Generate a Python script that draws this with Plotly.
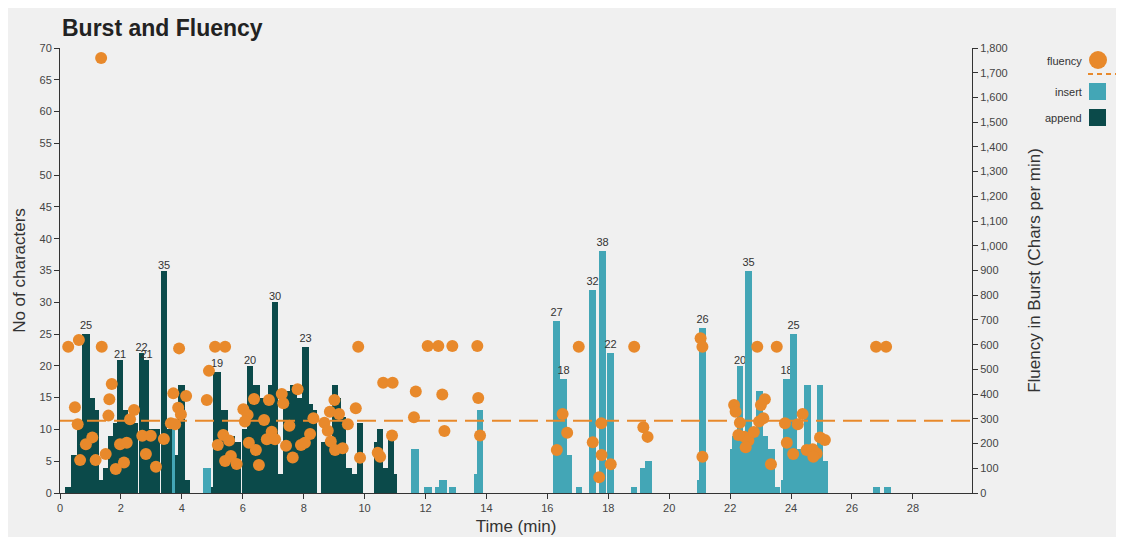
import plotly.graph_objects as go

# ---------------- data ----------------
# append bursts: start (min), end (min), characters
append_start = [0.16, 0.36, 0.55, 0.73, 0.98, 1.15, 1.29, 1.42, 1.57, 1.74, 1.86, 2.08, 2.22,
                2.59, 2.77, 2.93, 3.32, 3.50, 3.79, 3.88, 4.10,
                4.96, 5.03, 5.29, 5.53, 5.75, 5.98, 6.13, 6.35, 6.57, 6.84, 6.95, 7.17, 7.33,
                7.55, 7.77, 7.95, 8.18, 8.31, 8.57, 8.92, 9.14, 9.23, 9.39, 9.58, 9.74,
                10.32, 10.40, 10.61, 10.76, 10.98]
append_end = [0.36, 0.55, 0.73, 0.98, 1.15, 1.29, 1.42, 1.57, 1.74, 1.86, 2.08, 2.22, 2.55,
              2.77, 2.93, 3.28, 3.50, 3.67, 3.88, 4.10, 4.27,
              5.03, 5.29, 5.53, 5.75, 5.94, 6.13, 6.35, 6.57, 6.84, 6.95, 7.17, 7.33, 7.55,
              7.77, 7.95, 8.18, 8.31, 8.43, 8.92, 9.14, 9.23, 9.39, 9.58, 9.74, 9.96,
              10.40, 10.61, 10.76, 10.98, 11.07]
append_chars = [1, 6, 11, 25, 15, 13, 2, 4, 9, 11, 21, 13, 11,
                22, 21, 10, 35, 10, 6, 17, 2,
                1, 19, 13, 9, 8, 10, 20, 17, 15, 17, 30, 3, 16,
                17, 15, 23, 14, 13, 8, 17, 15, 12, 4, 3, 11,
                8, 10, 4, 9, 3]

# insert bursts: start (min), end (min), characters
insert_start = [3.67, 4.70, 11.51, 11.96, 12.31, 12.45, 12.78, 13.59, 13.70,
                16.20, 16.41, 16.63, 16.93, 17.38, 17.70, 17.97, 18.74, 19.04, 19.20,
                20.92, 20.98, 22.02, 22.07, 22.21, 22.43, 22.49, 22.71, 22.85, 23.07,
                23.25, 23.47, 23.67, 23.75, 23.97, 24.18, 24.43, 24.64, 24.84, 25.06,
                26.69, 27.05]
insert_end = [3.79, 4.96, 11.80, 12.20, 12.45, 12.72, 13.00, 13.70, 13.90,
              16.41, 16.63, 16.80, 17.15, 17.60, 17.92, 18.19, 18.95, 19.20, 19.42,
              20.98, 21.21, 22.07, 22.21, 22.43, 22.49, 22.71, 22.85, 23.07, 23.25,
              23.47, 23.64, 23.75, 23.97, 24.18, 24.43, 24.64, 24.84, 25.06, 25.22,
              26.92, 27.28]
insert_chars = [10, 4, 7, 1, 1, 2, 1, 3, 13,
                27, 18, 6, 1, 32, 38, 22, 1, 4, 5,
                2, 26, 7, 9, 20, 9, 35, 9, 16, 9,
                7, 1, 2, 18, 25, 7, 17, 5, 17, 5,
                1, 1]

# fluency in burst (chars per min)
fluency_time = [0.27, 0.62, 1.37, 0.49, 0.58, 1.06, 0.85, 0.66, 1.17, 1.70, 1.62, 1.59, 1.50,
                1.83, 2.10, 1.97, 2.19, 2.30, 2.43, 2.70, 2.98, 2.82, 3.15, 3.41, 3.91, 3.72,
                4.14, 3.88, 3.97, 3.64, 3.78, 1.35,
                5.09, 5.42, 4.89, 4.82, 5.18, 5.36, 5.55, 5.61, 5.42, 5.80, 6.02, 6.16, 6.07,
                6.37, 6.20, 6.43, 6.53, 6.70, 6.86, 6.79, 6.95, 7.06, 7.28, 7.33, 7.53, 7.42,
                7.64, 7.80, 7.91, 8.04, 8.21, 8.32, 8.68, 8.79, 8.86, 9.01, 9.16, 8.89, 9.03,
                9.28, 9.45, 9.71, 9.79, 9.85, 10.43, 10.51, 10.61, 10.92, 10.90,
                12.07, 12.42, 12.88, 13.70, 11.68, 12.55, 13.73, 11.62, 12.62, 13.79,
                17.03, 18.85, 16.50, 16.65, 16.31, 17.77, 17.49, 17.78, 18.08, 17.70, 19.15, 19.29,
                21.03, 21.09, 21.09, 22.89, 23.53, 22.13, 22.18, 22.32, 22.27, 22.46, 22.60,
                22.51, 22.78, 23.01, 23.14, 22.95, 23.09, 23.34, 23.80, 24.22, 24.38, 23.86,
                24.07, 24.51, 24.71, 24.84, 24.73, 24.95, 25.11, 26.79, 27.12]
fluency_value = [592, 619, 592, 347, 278, 225, 197, 133, 133, 441, 379, 313, 158,
                 97, 123, 197, 203, 298, 336, 232, 232, 158, 106, 218, 585, 403,
                 392, 345, 318, 282, 278, 1760,
                 592, 592, 494, 376, 194, 235, 212, 150, 129, 117, 339, 316, 289,
                 380, 203, 174, 113, 295, 376, 217, 248, 217, 400, 363, 272, 191,
                 144, 420, 194, 203, 239, 302, 284, 252, 329, 376, 320, 208, 174,
                 181, 278, 343, 592, 143, 163, 147, 446, 446, 233,
                 595, 595, 595, 595, 411, 398, 384, 306, 251, 233,
                 592, 592, 320, 244, 174, 282, 205, 154, 116, 64, 266, 227,
                 626, 592, 147, 592, 592, 356, 329, 284, 235, 228, 212,
                 185, 247, 356, 379, 289, 302, 116, 282, 278, 320, 203,
                 158, 174, 177, 160, 147, 225, 214, 592, 592]
avg_fluency = 292

x_ticks = list(range(0, 29, 2))
label_min = 18

# ---------------- style ----------------
C_APPEND = "#0b4a4a"
C_INSERT = "#43a6b6"
C_ORANGE = "#e8892b"
BG = "#f0f0f0"
FONT = "Liberation Sans, Arial, sans-serif"

OFF = 8  # page offset of the figure inside the window
W, H = 1124, 537
ML, MT, PW, PH = 52, 40, 912, 445
MR = W - ML - PW
MB = H - MT - PH


def bars(starts, ends, vals, color, name):
    centers = [(s + e) / 2 for s, e in zip(starts, ends)]
    widths = [(e - s) for s, e in zip(starts, ends)]
    labels = [str(v) if v >= label_min else "" for v in vals]
    return go.Bar(x=centers, y=vals, width=widths, marker=dict(color=color, line=dict(width=0)),
                  name=name, text=labels, textposition="outside", cliponaxis=False,
                  textfont=dict(size=11, color="#333333", family=FONT), constraintext="none",
                  showlegend=False)


fig = go.Figure()
fig.add_trace(bars(append_start, append_end, append_chars, C_APPEND, "append"))
fig.add_trace(bars(insert_start, insert_end, insert_chars, C_INSERT, "insert"))
fig.add_trace(go.Scatter(x=[0, 29.94], y=[avg_fluency, avg_fluency], yaxis="y2", mode="lines",
                         line=dict(color=C_ORANGE, width=2, dash="19px,8px"), showlegend=False,
                         hoverinfo="skip"))
fig.add_trace(go.Scatter(x=fluency_time, y=fluency_value, yaxis="y2", mode="markers",
                         marker=dict(color=C_ORANGE, size=12, line=dict(width=0)),
                         name="fluency", showlegend=False, cliponaxis=False))

axis_common = dict(showline=True, linecolor="#333333", linewidth=1, ticks="outside",
                   ticklen=5, tickcolor="#333333", showgrid=False, zeroline=False,
                   automargin=False,
                   tickfont=dict(size=11, color="#444444", family=FONT))

fig.update_layout(
    width=W, height=H, autosize=False,
    margin=dict(l=ML, r=MR, t=MT, b=MB),
    paper_bgcolor=BG, plot_bgcolor=BG,
    barmode="overlay", bargap=0,
    font=dict(family=FONT, color="#333333"),
    title=dict(text="<b>Burst and Fluency</b>", x=(62 - OFF) / W, xanchor="left", xref="container",
               y=1 - (28 - OFF) / H, yanchor="middle",
               font=dict(size=23, color="#222222", family=FONT)),
    xaxis=dict(range=[0, 29.94], tickvals=x_ticks, **axis_common,
               title=dict(text="Time (min)", font=dict(size=17, color="#333333"), standoff=6)),
    yaxis=dict(range=[0, 70], dtick=5, **axis_common,
               title=dict(text="No of characters", font=dict(size=17, color="#333333"), standoff=9)),
    yaxis2=dict(range=[0, 1800], dtick=100, overlaying="y", side="right", tickformat=",d",
                **axis_common,
                title=dict(text="Fluency in Burst (Chars per min)", font=dict(size=17, color="#333333"),
                           standoff=21)),
)


# ---------------- custom legend (text left, symbol right) ----------------
def px_x(px):
    return (px - OFF - ML) / PW


def px_y(py):
    return (H - MB - (py - OFF)) / PH


legend_items = [("fluency", 61), ("insert", 92), ("append", 118)]
for txt, py in legend_items:
    fig.add_annotation(text=txt, xref="paper", yref="paper", x=px_x(1084), y=px_y(py),
                       xanchor="right", yanchor="middle", showarrow=False,
                       font=dict(size=11, color="#333333", family=FONT))

fig.add_shape(type="circle", xref="paper", yref="paper", x0=px_x(1089), x1=px_x(1107),
              y0=px_y(69), y1=px_y(51), fillcolor=C_ORANGE, line=dict(width=0))
fig.add_shape(type="line", xref="paper", yref="paper", x0=px_x(1088), x1=px_x(1120),
              y0=px_y(74), y1=px_y(74), line=dict(color=C_ORANGE, width=2, dash="5px,4px"))
fig.add_shape(type="rect", xref="paper", yref="paper", x0=px_x(1089), x1=px_x(1106),
              y0=px_y(100), y1=px_y(83), fillcolor=C_INSERT, line=dict(width=0))
fig.add_shape(type="rect", xref="paper", yref="paper", x0=px_x(1089), x1=px_x(1106),
              y0=px_y(126), y1=px_y(109), fillcolor=C_APPEND, line=dict(width=0))

fig.write_html("out.html")
